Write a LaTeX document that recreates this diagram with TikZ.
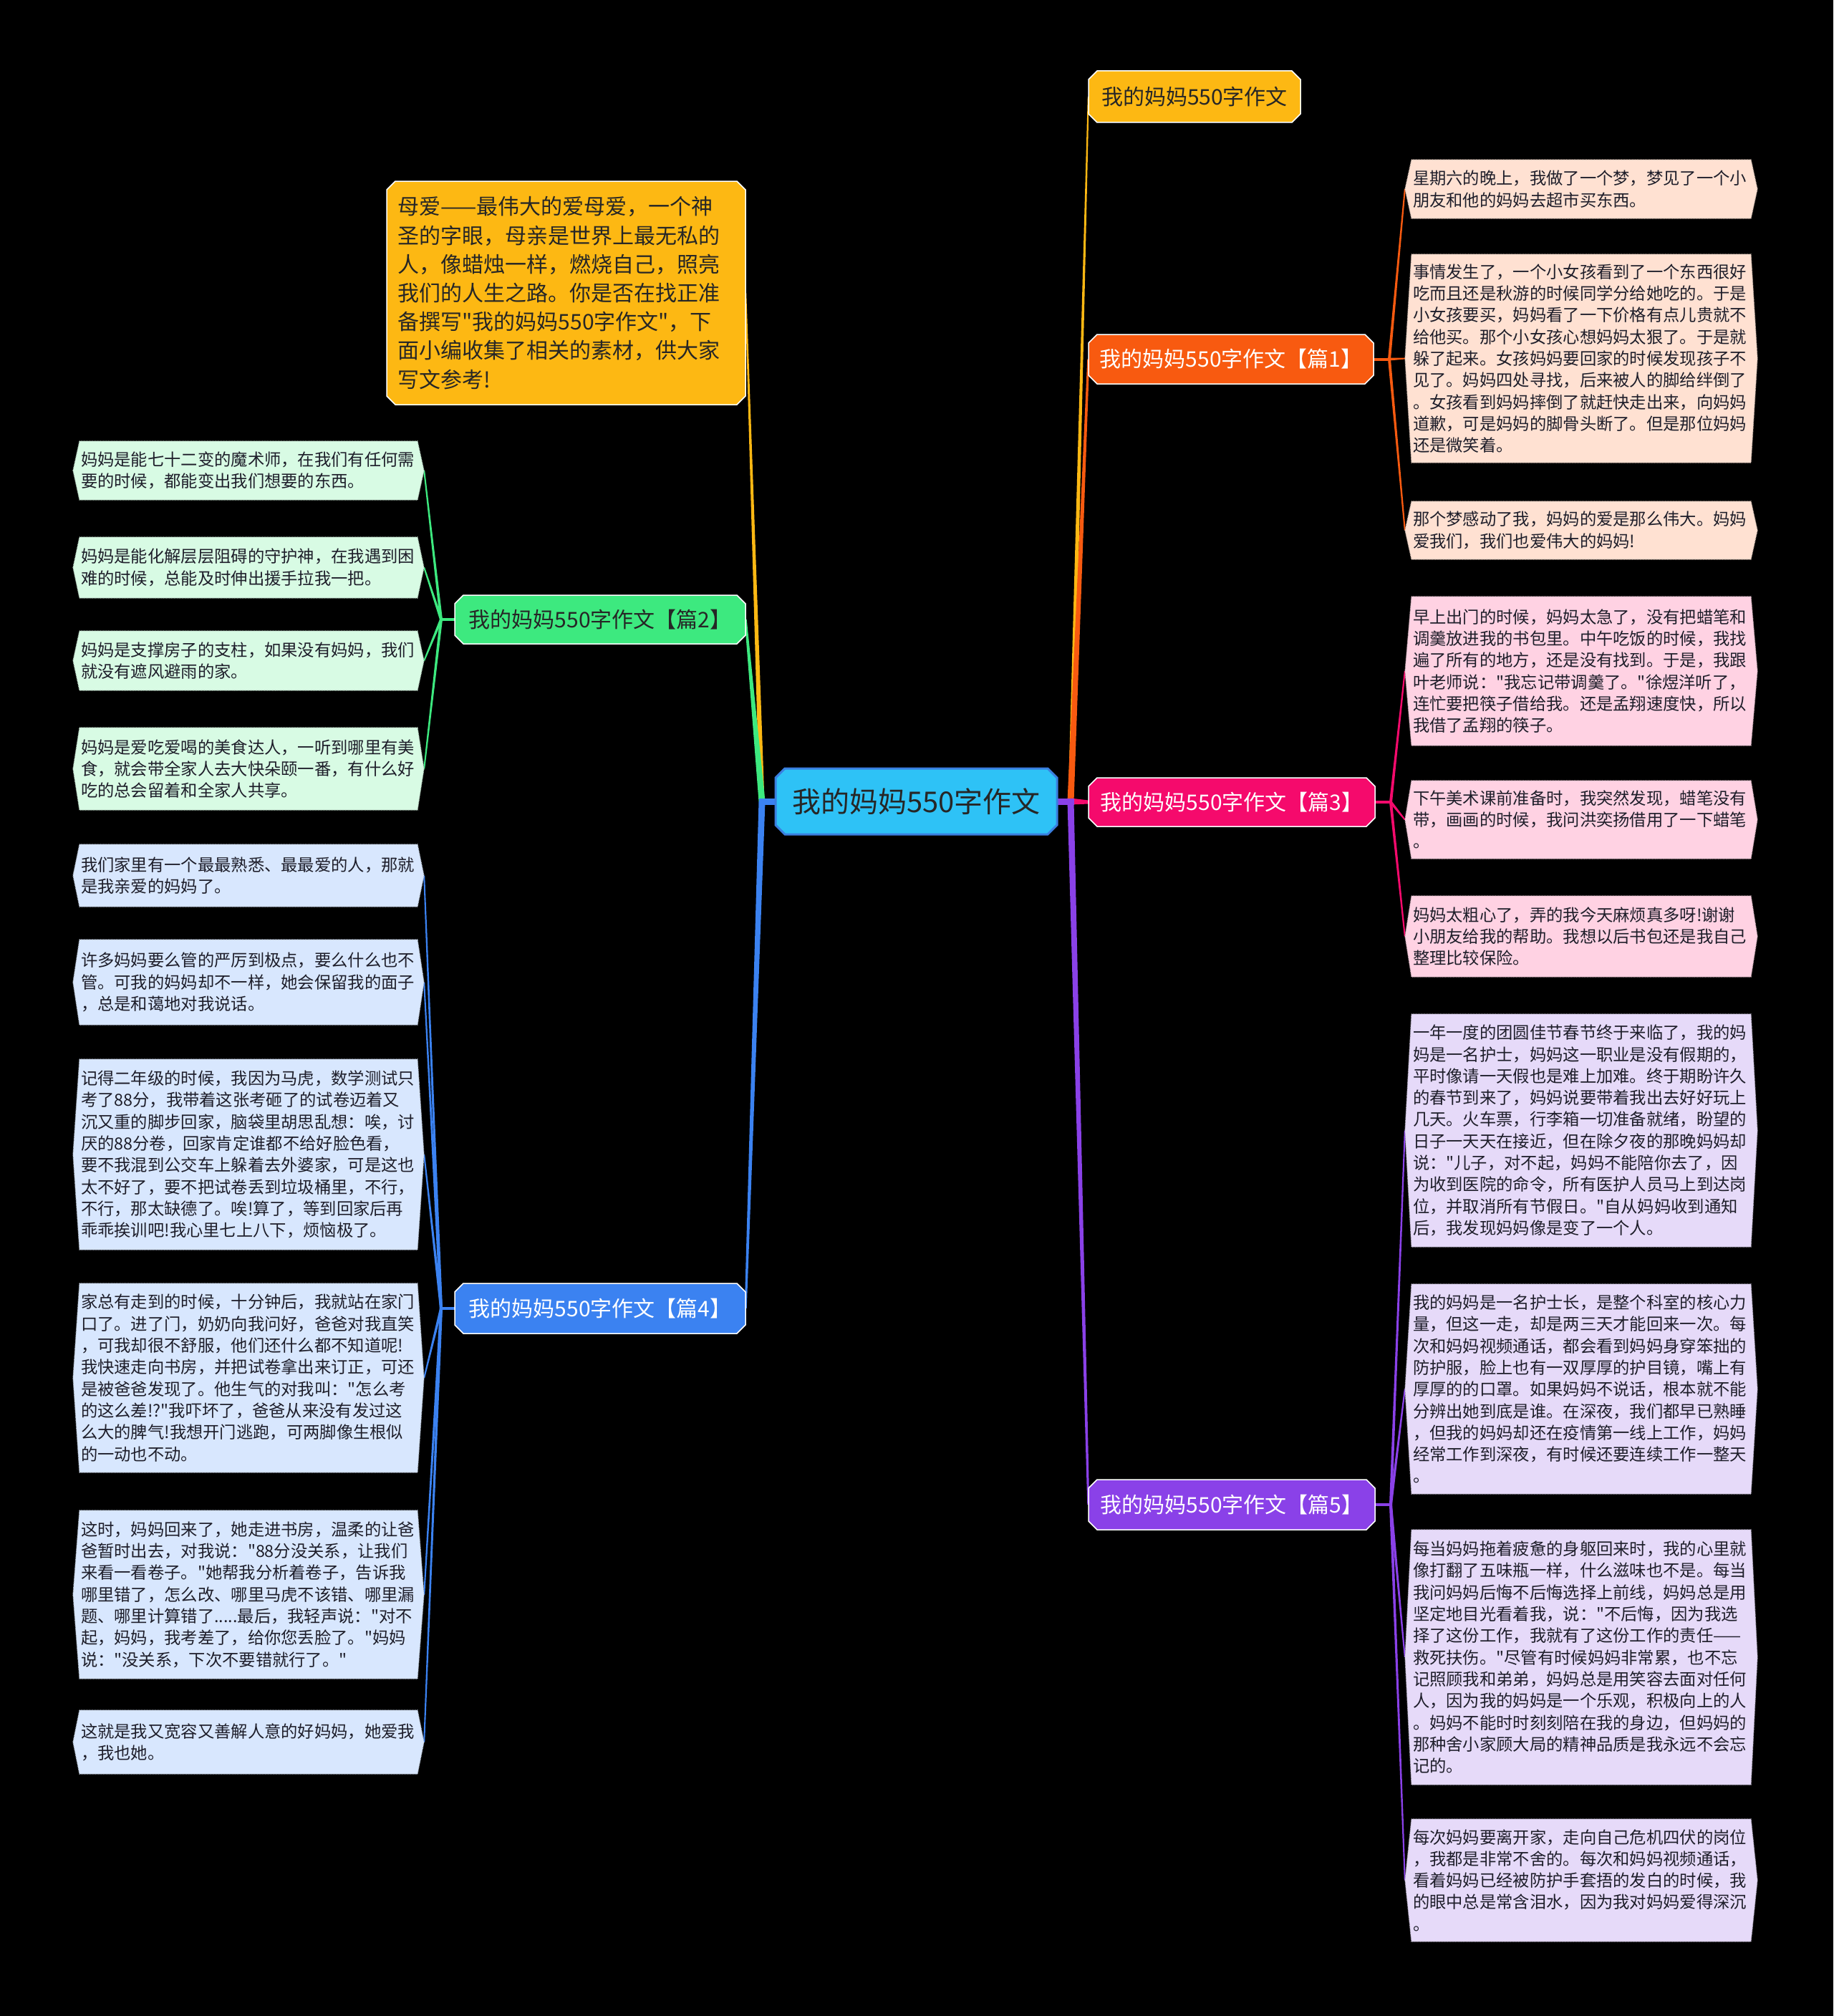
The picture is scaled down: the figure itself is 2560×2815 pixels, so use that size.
\documentclass[tikz,border=0pt]{standalone}
\usepackage{fontspec}
\newfontfamily\cjk{Noto Sans CJK SC}
\usetikzlibrary{calc}
\pgfdeclarelayer{bg}
\pgfdeclarelayer{lines}
\pgfsetlayers{bg,lines,main}

\definecolor{cRoot}{HTML}{2EC2F6}
\definecolor{cRootB}{HTML}{3A7FE0}
\definecolor{cYel}{HTML}{FDB813}
\definecolor{cOra}{HTML}{F85A10}
\definecolor{cPnk}{HTML}{F50A6C}
\definecolor{cPur}{HTML}{8A41E8}
\definecolor{cGrn}{HTML}{3DE97F}
\definecolor{cBlu}{HTML}{3B82F1}
\definecolor{lOra}{HTML}{FFE1D2}
\definecolor{lPnk}{HTML}{FFD2E3}
\definecolor{lPur}{HTML}{E6DAF9}
\definecolor{lGrn}{HTML}{D8FBE4}
\definecolor{lBlu}{HTML}{D8E7FE}
\definecolor{tDark}{HTML}{262626}
\definecolor{tLeaf}{HTML}{1E1E2A}

% chamfered box + named node
\newcommand\mmbox[9]{%
  \path[#6] (#2+#8,#3) -- (#4-#8,#3) -- (#4,#3+#8) -- (#4,#5-#8) -- (#4-#8,#5) -- (#2+#8,#5) -- (#2,#5-#8) -- (#2,#3+#8) -- cycle;
  \node[inner sep=0, minimum width={#4-#2}, minimum height={#5-#3}, #7] (#1) at ({(#2+#4)/2},{(#3+#5)/2}) {#9};}
% hexagonal leaf + named node
\newcommand\mmleaf[7]{%
  \path[fill=#6, draw=#6!70!gray, densely dotted, line width=1.2] (#2,#3) -- (#4,#3) -- (#4+9,{(#3+#5)/2}) -- (#4,#5) -- (#2,#5) -- (#2-9,{(#3+#5)/2}) -- cycle;
  \node[leaftext, minimum width={#4-#2+18}, minimum height={#5-#3}, text width={#4-#2-4}] (#1) at ({(#2+#4)/2},{(#3+#5)/2}) {#7};}
% tapered connector
\newcommand\mmtaper[5]{%
  \fill[#3] ($(#1)!#4!90:(#2)$) -- ($(#2)!#5!-90:(#1)$) -- ($(#2)!#5!90:(#1)$) -- ($(#1)!#4!-90:(#2)$) -- cycle;}

\begin{document}
\begin{tikzpicture}[x=1pt,y=-1pt,
  leaftext/.style={font=\cjk\fontsize{23.3}{30.3}\selectfont, text=tLeaf, align=left, inner xsep=11, inner ysep=0},
  lonefont/.style={font=\cjk\fontsize{30}{36}\selectfont},
  lightbox/.style={line width=1.5, draw=white}]
\begin{pgfonlayer}{bg}
\fill[black] (0,0) rectangle (2560,2815);
\end{pgfonlayer}
\useasboundingbox (0,0) rectangle (2560,2815);

% root
\mmbox{root}{1083}{1073}{1476}{1165}{fill=cRoot, draw=cRootB, line width=3}{font=\cjk\fontsize{40}{46}\selectfont, text=tDark}{13}{我的妈妈550字作文}
\coordinate (rL) at (1064,1119);
\coordinate (rR) at (1495,1119);

% level 1 left
\mmbox{in0}{540}{253}{1041}{565}{fill=cYel, lightbox}{font=\cjk\fontsize{30}{40.2}\selectfont, text=tDark, text width=470, align=left}{12}{母爱——最伟大的爱母爱，一个神\\圣的字眼，母亲是世界上最无私的\\人，像蜡烛一样，燃烧自己，照亮\\我们的人生之路。你是否在找正准\\备撰写"我的妈妈550字作文"，下\\面小编收集了相关的素材，供大家\\写文参考!}
\mmbox{p2}{635}{831}{1041}{899}{fill=cGrn, lightbox}{lonefont, text=tDark}{12}{我的妈妈550字作文【篇2】}
\mmbox{p4}{635}{1792}{1041}{1862}{fill=cBlu, lightbox}{lonefont, text=white}{12}{我的妈妈550字作文【篇4】}

% level 1 right
\mmbox{t0}{1520}{99}{1816}{171}{fill=cYel, lightbox}{lonefont, text=tDark}{12}{我的妈妈550字作文}
\mmbox{p1}{1520}{467}{1918}{536}{fill=cOra, lightbox}{lonefont, text=white}{12}{我的妈妈550字作文【篇1】}
\mmbox{p3}{1520}{1086}{1920}{1154}{fill=cPnk, lightbox}{lonefont, text=white}{12}{我的妈妈550字作文【篇3】}
\mmbox{p5}{1520}{2066}{1920}{2136}{fill=cPur, lightbox}{lonefont, text=white}{12}{我的妈妈550字作文【篇5】}

\coordinate (j1) at (1940,501.5);
\coordinate (j3) at (1942,1120);
\coordinate (j5) at (1942,2101);
\coordinate (j2) at (616,865);
\coordinate (j4) at (616,1827);

% leaves of 篇1
\mmleaf{a1}{1971}{223}{2445}{305}{lOra}{星期六的晚上，我做了一个梦，梦见了一个小\\朋友和他的妈妈去超市买东西。}
\mmleaf{b1}{1971}{355}{2445}{646}{lOra}{事情发生了，一个小女孩看到了一个东西很好\\吃而且还是秋游的时候同学分给她吃的。于是\\小女孩要买，妈妈看了一下价格有点儿贵就不\\给他买。那个小女孩心想妈妈太狠了。于是就\\躲了起来。女孩妈妈要回家的时候发现孩子不\\见了。妈妈四处寻找，后来被人的脚给绊倒了\\。女孩看到妈妈摔倒了就赶快走出来，向妈妈\\道歉，可是妈妈的脚骨头断了。但是那位妈妈\\还是微笑着。}
\mmleaf{c1}{1971}{700}{2445}{781}{lOra}{那个梦感动了我，妈妈的爱是那么伟大。妈妈\\爱我们，我们也爱伟大的妈妈!}

% leaves of 篇3
\mmleaf{a3}{1971}{833}{2445}{1041}{lPnk}{早上出门的时候，妈妈太急了，没有把蜡笔和\\调羹放进我的书包里。中午吃饭的时候，我找\\遍了所有的地方，还是没有找到。于是，我跟\\叶老师说："我忘记带调羹了。"徐煜洋听了，\\连忙要把筷子借给我。还是孟翔速度快，所以\\我借了孟翔的筷子。}
\mmleaf{b3}{1971}{1090}{2445}{1199}{lPnk}{下午美术课前准备时，我突然发现，蜡笔没有\\带，画画的时候，我问洪奕扬借用了一下蜡笔\\。}
\mmleaf{c3}{1971}{1251}{2445}{1364}{lPnk}{妈妈太粗心了，弄的我今天麻烦真多呀!谢谢\\小朋友给我的帮助。我想以后书包还是我自己\\整理比较保险。}

% leaves of 篇5
\mmleaf{a5}{1971}{1416}{2445}{1741}{lPur}{一年一度的团圆佳节春节终于来临了，我的妈\\妈是一名护士，妈妈这一职业是没有假期的，\\平时像请一天假也是难上加难。终于期盼许久\\的春节到来了，妈妈说要带着我出去好好玩上\\几天。火车票，行李箱一切准备就绪，盼望的\\日子一天天在接近，但在除夕夜的那晚妈妈却\\说："儿子，对不起，妈妈不能陪你去了，因\\为收到医院的命令，所有医护人员马上到达岗\\位，并取消所有节假日。"自从妈妈收到通知\\后，我发现妈妈像是变了一个人。}
\mmleaf{b5}{1971}{1793}{2445}{2086}{lPur}{我的妈妈是一名护士长，是整个科室的核心力\\量，但这一走，却是两三天才能回来一次。每\\次和妈妈视频通话，都会看到妈妈身穿笨拙的\\防护服，脸上也有一双厚厚的护目镜，嘴上有\\厚厚的的口罩。如果妈妈不说话，根本就不能\\分辨出她到底是谁。在深夜，我们都早已熟睡\\，但我的妈妈却还在疫情第一线上工作，妈妈\\经常工作到深夜，有时候还要连续工作一整天\\。}
\mmleaf{c5}{1971}{2136}{2445}{2492}{lPur}{每当妈妈拖着疲惫的身躯回来时，我的心里就\\像打翻了五味瓶一样，什么滋味也不是。每当\\我问妈妈后悔不后悔选择上前线，妈妈总是用\\坚定地目光看着我，说："不后悔，因为我选\\择了这份工作，我就有了这份工作的责任——\\救死扶伤。"尽管有时候妈妈非常累，也不忘\\记照顾我和弟弟，妈妈总是用笑容去面对任何\\人，因为我的妈妈是一个乐观，积极向上的人\\。妈妈不能时时刻刻陪在我的身边，但妈妈的\\那种舍小家顾大局的精神品质是我永远不会忘\\记的。}
\mmleaf{d5}{1971}{2540}{2445}{2711}{lPur}{每次妈妈要离开家，走向自己危机四伏的岗位\\，我都是非常不舍的。每次和妈妈视频通话，\\看着妈妈已经被防护手套捂的发白的时候，我\\的眼中总是常含泪水，因为我对妈妈爱得深沉\\。}

% leaves of 篇2
\mmleaf{a2}{111}{616}{583}{698}{lGrn}{妈妈是能七十二变的魔术师，在我们有任何需\\要的时候，都能变出我们想要的东西。}
\mmleaf{b2}{111}{750}{583}{835}{lGrn}{妈妈是能化解层层阻碍的守护神，在我遇到困\\难的时候，总能及时伸出援手拉我一把。}
\mmleaf{c2}{111}{881}{583}{964}{lGrn}{妈妈是支撑房子的支柱，如果没有妈妈，我们\\就没有遮风避雨的家。}
\mmleaf{d2}{111}{1016}{583}{1131}{lGrn}{妈妈是爱吃爱喝的美食达人，一听到哪里有美\\食，就会带全家人去大快朵颐一番，有什么好\\吃的总会留着和全家人共享。}

% leaves of 篇4
\mmleaf{a4}{111}{1179}{583}{1266}{lBlu}{我们家里有一个最最熟悉、最最爱的人，那就\\是我亲爱的妈妈了。}
\mmleaf{b4}{111}{1312}{583}{1431}{lBlu}{许多妈妈要么管的严厉到极点，要么什么也不\\管。可我的妈妈却不一样，她会保留我的面子\\，总是和蔼地对我说话。}
\mmleaf{c4}{111}{1479}{583}{1745}{lBlu}{记得二年级的时候，我因为马虎，数学测试只\\考了88分，我带着这张考砸了的试卷迈着又\\沉又重的脚步回家，脑袋里胡思乱想：唉，讨\\厌的88分卷，回家肯定谁都不给好脸色看，\\要不我混到公交车上躲着去外婆家，可是这也\\太不好了，要不把试卷丢到垃圾桶里，不行，\\不行，那太缺德了。唉!算了，等到回家后再\\乖乖挨训吧!我心里七上八下，烦恼极了。}
\mmleaf{d4}{111}{1792}{583}{2056}{lBlu}{家总有走到的时候，十分钟后，我就站在家门\\口了。进了门，奶奶向我问好，爸爸对我直笑\\，可我却很不舒服，他们还什么都不知道呢!\\我快速走向书房，并把试卷拿出来订正，可还\\是被爸爸发现了。他生气的对我叫："怎么考\\的这么差!?"我吓坏了，爸爸从来没有发过这\\么大的脾气!我想开门逃跑，可两脚像生根似\\的一动也不动。}
\mmleaf{e4}{111}{2109}{583}{2344}{lBlu}{这时，妈妈回来了，她走进书房，温柔的让爸\\爸暂时出去，对我说："88分没关系，让我们\\来看一看卷子。"她帮我分析着卷子，告诉我\\哪里错了，怎么改、哪里马虎不该错、哪里漏\\题、哪里计算错了.....最后，我轻声说："对不\\起，妈妈，我考差了，给你您丢脸了。"妈妈\\说："没关系，下次不要错就行了。"}
\mmleaf{f4}{111}{2388}{583}{2477}{lBlu}{这就是我又宽容又善解人意的好妈妈，她爱我\\，我也她。}

% connectors
\begin{pgfonlayer}{lines}
% main, left
\mmtaper{rL}{in0.east}{cYel}{3.5pt}{1pt}
\mmtaper{rL}{p2.east}{cGrn}{4.5pt}{1.5pt}
\mmtaper{rL}{p4.east}{cBlu}{4.5pt}{1.5pt}
\draw[cBlu, line width=9] (root.west) -- ($(rL)+(-4.5,0)$);
% main, right
\mmtaper{rR}{t0.west}{cYel}{3.5pt}{1pt}
\mmtaper{rR}{p1.west}{cOra}{4.5pt}{1.5pt}
\mmtaper{rR}{p3.west}{cPnk}{4.5pt}{2.5pt}
\mmtaper{rR}{p5.west}{cPur}{4.5pt}{1.5pt}
\draw[cPur, line width=9] (root.east) -- ($(rR)+(4.5,0)$);
% 篇1
\draw[cOra, line width=4] (p1.east) -- (j1);
\mmtaper{j1}{a1.west}{cOra}{2pt}{1pt}
\mmtaper{j1}{b1.west}{cOra}{2pt}{1pt}
\mmtaper{j1}{c1.west}{cOra}{2pt}{1pt}
% 篇3
\draw[cPnk, line width=4] (p3.east) -- (j3);
\mmtaper{j3}{a3.west}{cPnk}{2pt}{1pt}
\mmtaper{j3}{b3.west}{cPnk}{2pt}{1pt}
\mmtaper{j3}{c3.west}{cPnk}{2pt}{1pt}
% 篇5
\draw[cPur, line width=4] (p5.east) -- (j5);
\mmtaper{j5}{a5.west}{cPur}{2pt}{1pt}
\mmtaper{j5}{b5.west}{cPur}{2pt}{1pt}
\mmtaper{j5}{c5.west}{cPur}{2pt}{1pt}
\mmtaper{j5}{d5.west}{cPur}{2pt}{1pt}
% 篇2
\draw[cGrn, line width=4] (p2.west) -- (j2);
\mmtaper{j2}{a2.east}{cGrn}{2pt}{1pt}
\mmtaper{j2}{b2.east}{cGrn}{2pt}{1pt}
\mmtaper{j2}{c2.east}{cGrn}{2pt}{1pt}
\mmtaper{j2}{d2.east}{cGrn}{2pt}{1pt}
% 篇4
\draw[cBlu, line width=4] (p4.west) -- (j4);
\mmtaper{j4}{a4.east}{cBlu}{2pt}{1pt}
\mmtaper{j4}{b4.east}{cBlu}{2pt}{1pt}
\mmtaper{j4}{c4.east}{cBlu}{2pt}{1pt}
\mmtaper{j4}{d4.east}{cBlu}{2pt}{1pt}
\mmtaper{j4}{e4.east}{cBlu}{2pt}{1pt}
\mmtaper{j4}{f4.east}{cBlu}{2pt}{1pt}
\end{pgfonlayer}
\end{tikzpicture}
\end{document}
